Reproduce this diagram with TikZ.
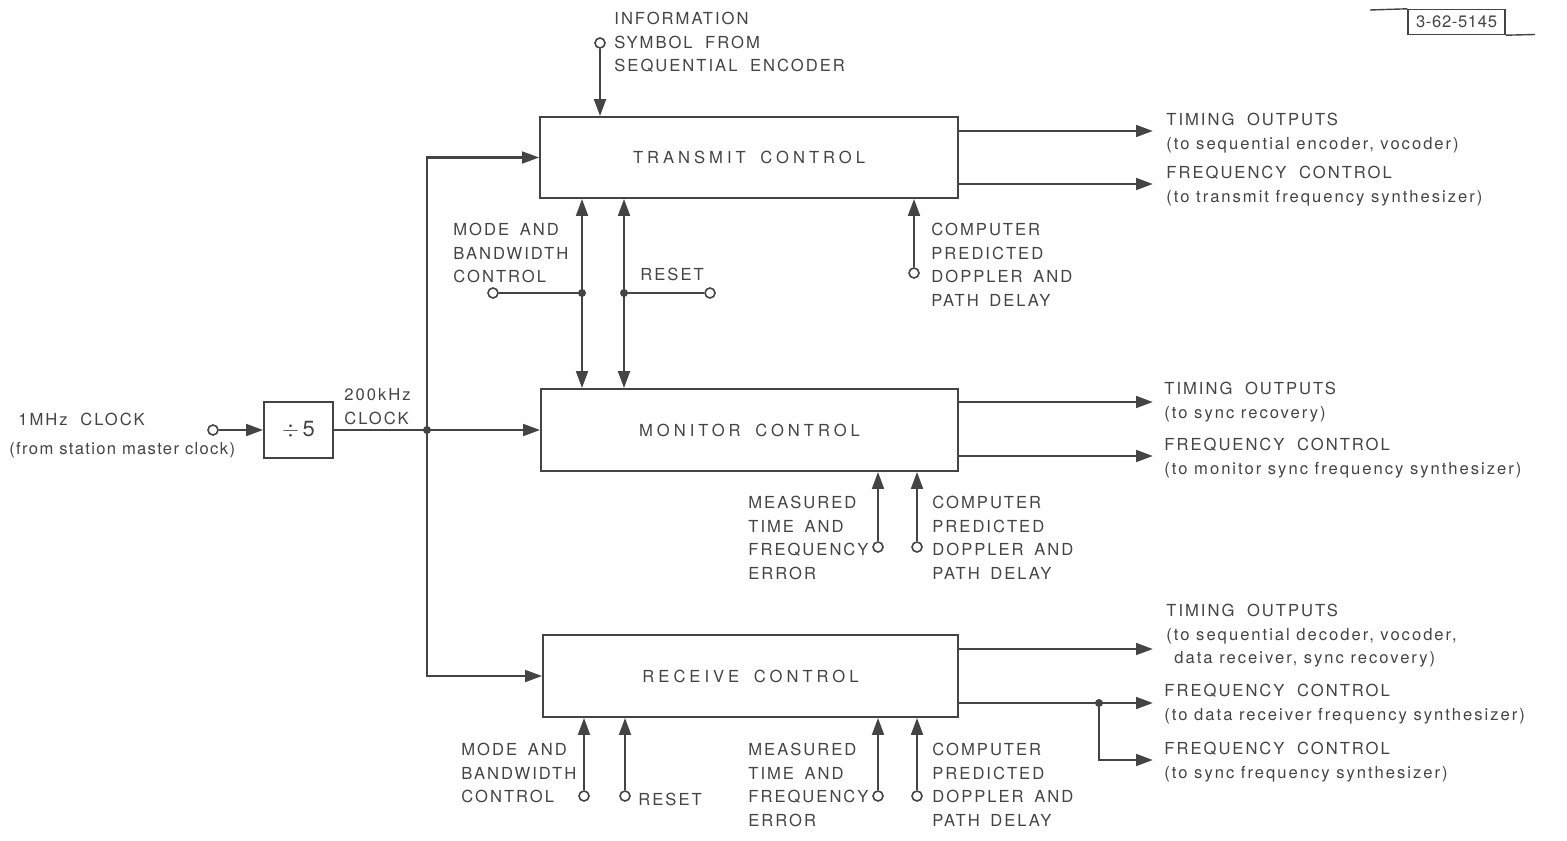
\documentclass[tikz,border=0pt]{standalone}
\usepackage{fontspec}
\setmainfont{TeX Gyre Heros}[LetterSpace=12]
\usetikzlibrary{arrows.meta}
\definecolor{ink}{HTML}{444444}
\newcommand{\lblfont}{\fontsize{8.3}{11.75}\selectfont}
\newcommand{\boxfont}{\fontsize{8.3}{10}\selectfont\addfontfeature{LetterSpace=24}}
\begin{document}
\begin{tikzpicture}[x=0.5pt,y=-0.5pt,
  wire/.style={draw=ink,line width=1.4pt},
  arr/.style={wire,-{Triangle[length=8.5pt,width=5.8pt]}},
  darr/.style={wire,{Triangle[length=8.5pt,width=5.8pt]}-{Triangle[length=8.5pt,width=5.8pt]}},
  block/.style={draw=ink,line width=0.8pt,inner sep=0,text=ink,font=\boxfont},
  term/.style={circle,draw=ink,fill=white,line width=0.8pt,inner sep=0,minimum size=5pt},
  dot/.style={circle,fill=ink,inner sep=0,minimum size=4pt},
  lbl/.style={align=left,anchor=north west,inner sep=0,text=ink,font=\lblfont},
]
\useasboundingbox (0,0) rectangle (1567,840);

% blocks
\node[block,minimum width=209pt,minimum height=40.5pt] (tx) at (749,157.5) {TRANSMIT\hspace{3pt} CONTROL};
\node[block,minimum width=208.5pt,minimum height=41pt] (mon) at (749.5,430) {MONITOR\hspace{3pt} CONTROL};
\node[block,minimum width=207.5pt,minimum height=41pt] (rx) at (750.5,676) {RECEIVE\hspace{3pt} CONTROL};
\node[block,minimum width=34.5pt,minimum height=28pt,font=\fontsize{11}{12}\selectfont] (div) at (298.5,430) {$\div$\,5};

% clock input
\node[term] (in1) at (213,430) {};
\draw[arr] (in1) -- (div);
\node[lbl] (clk1) at (18,413) {1MHz\hspace{3pt} CLOCK};
\node[lbl,font=\lblfont\addfontfeature{LetterSpace=8}] (clk2) at (9,442) {(from station master clock)};
\node[lbl] (clk3) at (344,388) {200kHz\\CLOCK};

% clock distribution
\coordinate (jc) at (427,430);
\coordinate (jt) at (427,157.5);
\coordinate (jr) at (427,676);
\draw[wire] (div) -- (jc);
\draw[arr] (jc) -- (jt) -- (tx.west);
\draw[arr] (jc) -- (jr) -- (rx.west);
\draw[arr] (jc) -- (mon.west);
\node[dot] at (jc) {};

% information symbol input
\node[term] (info) at (600,43) {};
\draw[arr] (info) -- (info |- tx.north);
\node[lbl] (infol) at (614,12) {INFORMATION\\SYMBOL\hspace{3pt} FROM\\SEQUENTIAL\hspace{3pt} ENCODER};

% mode / reset between transmit and monitor
\coordinate (m1) at (582,293);
\coordinate (r1) at (624,293);
\draw[darr] (tx.south -| m1) -- (mon.north -| m1);
\draw[darr] (tx.south -| r1) -- (mon.north -| r1);
\node[term] (mbw1) at (493,293) {};
\node[term] (rst1) at (710,293) {};
\draw[wire] (mbw1) -- (m1);
\draw[wire] (rst1) -- (r1);
\node[dot] at (m1) {};
\node[dot] at (r1) {};
\node[lbl] (mbwl1) at (453,223) {MODE\hspace{2pt} AND\\BANDWIDTH\\CONTROL};
\node[lbl] (rstl1) at (640,268) {RESET};

% transmit computer input
\node[term] (cp1) at (914,273) {};
\draw[arr] (cp1) -- (cp1 |- tx.south);
\node[lbl] (cpl1) at (931,223) {COMPUTER\\PREDICTED\\DOPPLER\hspace{2pt} AND\\PATH\hspace{2pt} DELAY};

% transmit outputs
\coordinate (o1) at (1153,131);
\coordinate (o2) at (1153,184);
\draw[arr] (tx.east |- o1) -- (o1);
\draw[arr] (tx.east |- o2) -- (o2);
\node[lbl] (ol1) at (1166,113) {TIMING\hspace{3pt} OUTPUTS\\(to sequential encoder, vocoder)};
\node[lbl] (ol2) at (1166,166) {FREQUENCY\hspace{3pt} CONTROL\\(to transmit frequency synthesizer)};

% monitor outputs
\coordinate (o3) at (1153,402);
\coordinate (o4) at (1153,456);
\draw[arr] (mon.east |- o3) -- (o3);
\draw[arr] (mon.east |- o4) -- (o4);
\node[lbl] (ol3) at (1164,382) {TIMING\hspace{3pt} OUTPUTS\\(to sync recovery)};
\node[lbl] (ol4) at (1164,438) {FREQUENCY\hspace{3pt} CONTROL\\(to monitor sync frequency synthesizer)};

% monitor inputs
\node[term] (me2) at (878,547) {};
\node[term] (cp2) at (917,547) {};
\draw[arr] (me2) -- (me2 |- mon.south);
\draw[arr] (cp2) -- (cp2 |- mon.south);
\node[lbl] (mel2) at (748,496) {MEASURED\\TIME\hspace{2pt} AND\\FREQUENCY\\ERROR};
\node[lbl] (cpl2) at (932,496) {COMPUTER\\PREDICTED\\DOPPLER\hspace{2pt} AND\\PATH\hspace{2pt} DELAY};

% receive inputs
\node[term] (mb3) at (584,796) {};
\node[term] (rs3) at (625,796) {};
\node[term] (me3) at (878,796) {};
\node[term] (cp3) at (917,796) {};
\draw[arr] (mb3) -- (mb3 |- rx.south);
\draw[arr] (rs3) -- (rs3 |- rx.south);
\draw[arr] (me3) -- (me3 |- rx.south);
\draw[arr] (cp3) -- (cp3 |- rx.south);
\node[lbl] (mbl3) at (461,743) {MODE\hspace{2pt} AND\\BANDWIDTH\\CONTROL};
\node[lbl] (rsl3) at (638,793) {RESET};
\node[lbl] (mel3) at (748,743) {MEASURED\\TIME\hspace{2pt} AND\\FREQUENCY\\ERROR};
\node[lbl] (cpl3) at (932,743) {COMPUTER\\PREDICTED\\DOPPLER\hspace{2pt} AND\\PATH\hspace{2pt} DELAY};

% receive outputs
\coordinate (o7) at (1153,649);
\coordinate (jf) at (1099,703);
\coordinate (o8) at (1153,703);
\coordinate (o9) at (1153,760);
\draw[arr] (rx.east |- o7) -- (o7);
\draw[wire] (rx.east |- jf) -- (jf);
\draw[arr] (jf) -- (o8);
\draw[arr] (jf) -- (jf |- o9) -- (o9);
\node[dot] at (jf) {};
\node[lbl] (ol7) at (1166,604) {TIMING\hspace{3pt} OUTPUTS\\(to sequential decoder, vocoder,\\\hspace{4pt}data receiver, sync recovery)};
\node[lbl] (ol8) at (1164,684) {FREQUENCY\hspace{3pt} CONTROL\\(to data receiver frequency synthesizer)};
\node[lbl] (ol9) at (1164,742) {FREQUENCY\hspace{3pt} CONTROL\\(to sync frequency synthesizer)};

% drawing number stamp
\node[draw=ink,line width=0.7pt,inner sep=0,minimum width=48.5pt,minimum height=12.5pt,text=ink,font=\fontsize{8.3}{9}\selectfont\addfontfeature{LetterSpace=4}] (stamp) at (1456.5,22) {3-62-5145};
\coordinate (sl) at (1370,10);
\coordinate (sr) at (1535,34.5);
\draw[draw=ink,line width=0.7pt] (stamp.north west) -- (sl);
\draw[draw=ink,line width=0.7pt] (stamp.south east) -- (sr);
\end{tikzpicture}
\end{document}
